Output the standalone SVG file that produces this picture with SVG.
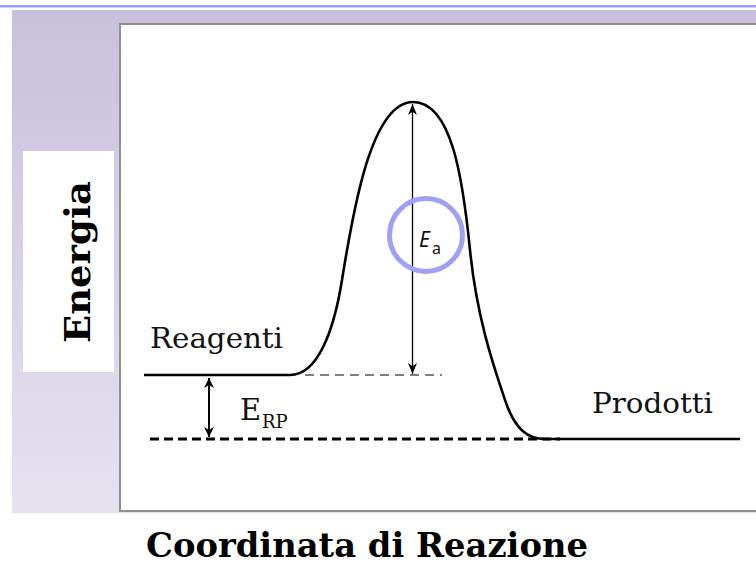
<svg xmlns="http://www.w3.org/2000/svg" width="756" height="565" viewBox="0 0 756 565">
  <defs>
    <linearGradient id="lav" x1="0" y1="0" x2="0" y2="1">
      <stop offset="0" stop-color="#c9c0de"/>
      <stop offset="1" stop-color="#e6e2ef"/>
    </linearGradient>
    <marker id="ah" viewBox="0 0 10 10" refX="10" refY="5" markerWidth="11" markerHeight="9" markerUnits="userSpaceOnUse" orient="auto-start-reverse" preserveAspectRatio="none">
      <path d="M0,0 L10,5 L0,10 L3,5 Z" fill="#000"/>
    </marker>
    <marker id="ah2" viewBox="0 0 10 10" refX="10" refY="5" markerWidth="10" markerHeight="10" markerUnits="userSpaceOnUse" orient="auto-start-reverse">
      <path d="M0,0 L10,5 L0,10 L3,5 Z" fill="#000"/>
    </marker>
  </defs>
  <style>
    .lbl { font-family: "DejaVu Serif", "Liberation Serif", serif; fill: #111; }
    .bold { font-family: "DejaVu Serif", "Liberation Serif", serif; font-weight: bold; fill: #000; }
    .ea { font-family: "Noto Sans", "Open Sans", sans-serif; fill: #111; }
  </style>

  <rect width="756" height="565" fill="#fff"/>
  <rect x="0" y="5" width="756" height="2.5" fill="#9a9cff"/>
  <rect x="12" y="10" width="744" height="503" fill="url(#lav)"/>
  <rect x="120" y="24" width="640" height="487" fill="#fff" stroke="#909090" stroke-width="2"/>

  <g id="axis-y">
    <rect x="23" y="151" width="91" height="221" fill="#fff"/>
    <text class="bold" transform="translate(90,343) rotate(-90)" font-size="36" textLength="162" lengthAdjust="spacingAndGlyphs">Energia</text>
  </g>

  <g id="axis-x">
    <text class="bold" x="146" y="557" font-size="33" textLength="442" lengthAdjust="spacingAndGlyphs">Coordinata di Reazione</text>
  </g>

  <g id="connectors">
    <path id="curve" d="M144,375 L290,375 C318,375 334,330 342,280 C352,218 370,102 413,102 C452,102 463,180 470,250 C477,320 495,370 505,400 C515,430 528,439 545,439 L740,439" fill="none" stroke="#000" stroke-width="2.6"/>
    <line x1="305" y1="375" x2="442" y2="375" stroke="#555" stroke-width="1.5" stroke-dasharray="9,6"/>
    <line x1="150" y1="439" x2="560" y2="439" stroke="#000" stroke-width="3" stroke-dasharray="9,5"/>
    <line x1="412.5" y1="104" x2="412.5" y2="374" stroke="#000" stroke-width="1.3" marker-start="url(#ah)" marker-end="url(#ah)"/>
    <line x1="209" y1="378" x2="209" y2="437" stroke="#000" stroke-width="2" marker-start="url(#ah2)" marker-end="url(#ah2)"/>
  </g>

  <g id="ea-label">
    <circle cx="426" cy="235" r="36.5" fill="none" stroke="#a0a0f5" stroke-width="5"/>
    <text class="ea" x="419" y="247" font-size="21" font-style="italic">E</text>
    <text class="ea" x="432" y="254" font-size="16">a</text>
  </g>

  <g id="reagenti">
    <text class="lbl" x="150" y="348" font-size="28.5" textLength="133" lengthAdjust="spacingAndGlyphs">Reagenti</text>
  </g>

  <g id="prodotti">
    <text class="lbl" x="592" y="413" font-size="28.5" textLength="121" lengthAdjust="spacingAndGlyphs">Prodotti</text>
  </g>

  <g id="erp-label">
    <text class="lbl" x="240" y="420" font-size="29">E</text>
    <text class="lbl" x="262" y="428" font-size="18">RP</text>
  </g>
</svg>
